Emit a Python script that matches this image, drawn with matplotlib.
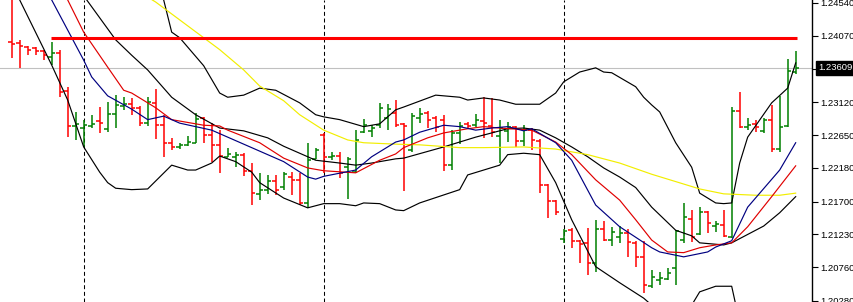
import matplotlib
matplotlib.use("Agg")
import matplotlib.pyplot as plt
import matplotlib.transforms as mtransforms
import numpy as np

# OHLC bars (left -> right)
opens = [1.2398, 1.2397, 1.2391, 1.2389, 1.2385, 1.2377, 1.2382, 1.2328, 1.2278, 1.2275,
         1.2278, 1.2285, 1.2274, 1.2295, 1.2307, 1.2309, 1.2304, 1.2282, 1.2311, 1.2279,
         1.2254, 1.2248, 1.2251, 1.2254, 1.2289, 1.2265, 1.2251, 1.2234, 1.2234, 1.2237,
         1.2214, 1.2181, 1.2187, 1.2199, 1.2191, 1.2205, 1.2201, 1.2168, 1.2231, 1.2265,
         1.2234, 1.2235, 1.2219, 1.2212, 1.2269, 1.2271, 1.2279, 1.2289, 1.2297, 1.2281,
         1.2244, 1.2289, 1.2297, 1.2289, 1.2287, 1.2222, 1.2268, 1.2281, 1.2279, 1.2285,
         1.2278, 1.2264, 1.2271, 1.2277, 1.2257, 1.2272, 1.2257, 1.2194, 1.2171, 1.2117,
         1.2129, 1.2114, 1.2111, 1.2082, 1.2131, 1.2115, 1.2119, 1.2125, 1.2111, 1.2091,
         1.2049, 1.2058, 1.2059, 1.2075, 1.2115, 1.2145, 1.2123, 1.2155, 1.2135, 1.2137,
         1.2119, 1.2299, 1.2277, 1.2281, 1.2271, 1.2287, 1.2245, 1.2278, 1.2355]
highs = [1.2465, 1.2401, 1.2392, 1.2391, 1.2387, 1.2398, 1.2387, 1.2334, 1.2298, 1.2287,
         1.2294, 1.2305, 1.2312, 1.2322, 1.2319, 1.2318, 1.2307, 1.2319, 1.2331, 1.2294,
         1.2261, 1.2254, 1.2264, 1.2297, 1.2291, 1.2282, 1.2272, 1.2247, 1.2241, 1.2239,
         1.2225, 1.2211, 1.2208, 1.2208, 1.2212, 1.2212, 1.2211, 1.2254, 1.2247, 1.2268,
         1.2241, 1.2241, 1.2234, 1.2272, 1.2288, 1.2279, 1.2311, 1.2309, 1.2315, 1.2282,
         1.2297, 1.2304, 1.2299, 1.2292, 1.2294, 1.2272, 1.2284, 1.2284, 1.2295, 1.2319,
         1.2318, 1.2287, 1.2284, 1.2278, 1.2279, 1.2275, 1.2259, 1.2195, 1.2172, 1.2131,
         1.2132, 1.2115, 1.2132, 1.2144, 1.2142, 1.2134, 1.2135, 1.2131, 1.2114, 1.2114,
         1.2072, 1.2069, 1.2075, 1.2129, 1.2168, 1.2158, 1.2162, 1.2157, 1.2142, 1.2158,
         1.2305, 1.2327, 1.2289, 1.2287, 1.2289, 1.2308, 1.2321, 1.2374, 1.2385]
lows = [1.2375, 1.2361, 1.2379, 1.2379, 1.2372, 1.2365, 1.2319, 1.2262, 1.2258, 1.2248,
        1.2275, 1.2268, 1.2269, 1.2275, 1.2301, 1.2294, 1.2278, 1.2278, 1.2259, 1.2234,
        1.2244, 1.2245, 1.2249, 1.2254, 1.2254, 1.2227, 1.2211, 1.2234, 1.2219, 1.2207,
        1.2165, 1.2172, 1.2181, 1.2179, 1.2187, 1.2179, 1.2165, 1.2161, 1.2231, 1.2211,
        1.2229, 1.2204, 1.2174, 1.2211, 1.2268, 1.2262, 1.2275, 1.2272, 1.2277, 1.2185,
        1.2241, 1.2282, 1.2275, 1.2269, 1.2214, 1.2215, 1.2252, 1.2275, 1.2277, 1.2261,
        1.2262, 1.2225, 1.2255, 1.2248, 1.2249, 1.2244, 1.2182, 1.2147, 1.2151, 1.2111,
        1.2104, 1.2082, 1.2065, 1.2069, 1.2114, 1.2107, 1.2111, 1.2091, 1.2077, 1.2039,
        1.2047, 1.2051, 1.2058, 1.2051, 1.2111, 1.2112, 1.2122, 1.2125, 1.2127, 1.2119,
        1.2118, 1.2275, 1.2272, 1.2269, 1.2268, 1.2241, 1.2241, 1.2277, 1.2352]
closes = [1.2395, 1.2392, 1.2387, 1.2385, 1.2379, 1.2382, 1.2327, 1.2278, 1.2281, 1.2279,
          1.2281, 1.2282, 1.2295, 1.2308, 1.2309, 1.2304, 1.2282, 1.2312, 1.2279, 1.2254,
          1.2248, 1.2251, 1.2255, 1.2288, 1.2265, 1.2251, 1.2235, 1.2238, 1.2237, 1.2214,
          1.2182, 1.2187, 1.2199, 1.2187, 1.2209, 1.2201, 1.2168, 1.2229, 1.2244, 1.2234,
          1.2235, 1.2211, 1.2231, 1.2258, 1.2279, 1.2275, 1.2304, 1.2302, 1.2279, 1.2278,
          1.2292, 1.2295, 1.2287, 1.2277, 1.2222, 1.2268, 1.2278, 1.2278, 1.2287, 1.2282,
          1.2269, 1.2275, 1.2277, 1.2257, 1.2272, 1.2258, 1.2194, 1.2171, 1.2155, 1.2128,
          1.2114, 1.2109, 1.2082, 1.2131, 1.2115, 1.2127, 1.2125, 1.2112, 1.2091, 1.2051,
          1.2062, 1.2061, 1.2068, 1.2128, 1.2148, 1.2119, 1.2155, 1.2139, 1.2138, 1.2121,
          1.2299, 1.2277, 1.2279, 1.2277, 1.2287, 1.2245, 1.2277, 1.2357, 1.23609]

# indicator lines, (bar index, price)
bb_upper = [(18, 1.2501), (19, 1.2458), (20, 1.2412), (21, 1.2404), (24, 1.2364), (26, 1.2325),
            (27, 1.2319), (29, 1.2322), (31, 1.2332), (33, 1.2329), (36, 1.2311), (38, 1.2294),
            (39, 1.2291), (41, 1.2287), (44, 1.2277), (46, 1.2281), (48, 1.2301), (49, 1.2305),
            (53, 1.2322), (56, 1.2319), (57, 1.2315), (59, 1.2318), (61, 1.2315), (63, 1.2309),
            (66, 1.2309), (68, 1.2325), (69, 1.2341), (71, 1.2355), (73, 1.2361), (74, 1.2355),
            (75, 1.2354), (78, 1.2334), (79, 1.2319), (80, 1.2308), (81, 1.2298), (83, 1.2254),
            (85, 1.2219), (86, 1.2182), (88, 1.2168), (89, 1.2167), (90, 1.2168), (91, 1.2225),
            (92, 1.2262), (95, 1.2311), (97, 1.2332), (98, 1.2368)]
bb_mid = [(8, 1.2484), (9, 1.2464), (13, 1.2401), (15, 1.2379), (17, 1.2358), (20, 1.2319),
          (23, 1.2294), (26, 1.2275), (29, 1.2271), (32, 1.2261), (34, 1.2249), (38, 1.2229),
          (41, 1.2225), (43, 1.2222), (45, 1.2225), (48, 1.2231), (49, 1.2232), (54, 1.2248),
          (58, 1.2262), (60, 1.2268), (62, 1.2274), (64, 1.2275), (66, 1.2272), (68, 1.2261),
          (70, 1.2248), (72, 1.2234), (74, 1.2218), (76, 1.2205), (78, 1.2190), (80, 1.2162),
          (83, 1.2129), (85, 1.2121), (86, 1.2111), (89, 1.2108), (90, 1.2111), (94, 1.2135),
          (96, 1.2154), (98, 1.2177)]
bb_lower = [(0, 1.2484), (1, 1.2458), (5, 1.2365), (7, 1.2315), (9, 1.2248), (11, 1.2212),
            (12, 1.2197), (13, 1.2189), (15, 1.2187), (17, 1.2188), (20, 1.2222), (22, 1.2215),
            (23, 1.2215), (25, 1.2225), (26, 1.2235), (28, 1.2227), (30, 1.2212), (31, 1.2197),
            (34, 1.2175), (37, 1.2161), (39, 1.2167), (41, 1.2167), (43, 1.2164), (44, 1.2168),
            (46, 1.2167), (48, 1.2158), (49, 1.2157), (51, 1.2168), (56, 1.2187), (57, 1.2208),
            (59, 1.2215), (61, 1.2222), (62, 1.2237), (64, 1.2239), (66, 1.2237), (68, 1.2197),
            (70, 1.2144), (73, 1.2077), (76, 1.2054), (79, 1.2032), (80, 1.2022), (82, 1.1994),
            (84, 1.1987), (85, 1.2022), (86, 1.2041), (88, 1.2049), (90, 1.2049), (91, 1.1997),
            (94, 1.1972), (98, 1.1987)]
ma_blue = [(4, 1.2472), (5, 1.2458), (7, 1.2415), (9, 1.2372), (10, 1.2348), (12, 1.2321),
           (15, 1.2302), (17, 1.2287), (19, 1.2292), (21, 1.2282), (25, 1.2272), (27, 1.2262),
           (31, 1.2242), (34, 1.2227), (37, 1.2205), (38, 1.2202), (39, 1.2206), (43, 1.2215),
           (45, 1.2234), (48, 1.2255), (49, 1.2258), (51, 1.2269), (54, 1.2279), (56, 1.2277),
           (58, 1.2272), (60, 1.2275), (62, 1.2277), (64, 1.2271), (65, 1.2274), (68, 1.2254),
           (70, 1.2229), (73, 1.2165), (76, 1.2134), (78, 1.2119), (80, 1.2104), (81, 1.2098),
           (84, 1.2091), (87, 1.2098), (88, 1.2105), (90, 1.2114), (92, 1.2162), (96, 1.2215),
           (98, 1.2254)]
ma_red = [(6, 1.2475), (7, 1.2458), (9, 1.2412), (12, 1.2362), (14, 1.2329), (15, 1.2325),
          (18, 1.2304), (20, 1.2287), (24, 1.2279), (26, 1.2278), (27, 1.2272), (31, 1.2254),
          (34, 1.2232), (37, 1.2218), (39, 1.2214), (43, 1.2211), (46, 1.2229), (48, 1.2238),
          (49, 1.2247), (52, 1.2261), (54, 1.2268), (57, 1.2274), (59, 1.2277), (61, 1.2275),
          (65, 1.2272), (68, 1.2255), (70, 1.2237), (73, 1.2201), (76, 1.2172), (78, 1.2144),
          (80, 1.2115), (82, 1.2098), (84, 1.2097), (86, 1.2104), (88, 1.2108), (90, 1.2111),
          (92, 1.2134), (95, 1.2177), (98, 1.2221)]
ma_yellow = [(16, 1.2469), (18, 1.2455), (24, 1.2404), (26, 1.2387), (29, 1.2358), (31, 1.2335),
             (34, 1.2314), (36, 1.2294), (39, 1.2272), (42, 1.2258), (44, 1.2254), (48, 1.2252),
             (51, 1.2251), (56, 1.2247), (59, 1.2247), (64, 1.2248), (68, 1.2245), (72, 1.2237),
             (76, 1.2225), (80, 1.2209), (84, 1.2195), (86, 1.2188), (89, 1.2181), (93, 1.2179),
             (96, 1.2179), (98, 1.2182)]

level_price = 1.2404
level_span = (4.9, 98.2)
separators = [9, 39, 69]
price_ticks = [1.24540, 1.24070, 1.23600, 1.23120, 1.22650, 1.22180, 1.21700, 1.21230, 1.20760, 1.20280]

BULL = '#008000'
BEAR = '#ff0000'

fig = plt.figure(figsize=(8.54, 3.02), dpi=100)
ax = fig.add_axes([0, 0, 812 / 854, 1])

x = np.arange(len(closes))
o = np.array(opens)
c = np.array(closes)
cols = [BULL if cc > oo else BEAR for oo, cc in zip(o, c)]

# day separators
for s in separators:
    ax.axvline(s, color='black', lw=0.75, ls=(0, (3.8, 2.6)), zorder=1)

# current price line
ax.axhline(closes[-1], color='#c0c0c0', lw=0.8, zorder=1)

# bars
ax.vlines(x, lows, highs, colors=cols, lw=1.1, zorder=3)
ax.hlines(o, x - 0.4, x, colors=cols, lw=1.1, zorder=3)
ax.hlines(c, x, x + 0.4, colors=cols, lw=1.1, zorder=3)

# indicators
for pts, col in [(bb_upper, 'black'), (bb_mid, 'black'), (bb_lower, 'black'),
                 (ma_yellow, '#f2ee00'), (ma_red, '#e00000'), (ma_blue, '#000080')]:
    xi, yi = zip(*pts)
    ax.plot(xi, yi, color=col, lw=0.85, zorder=4)

# resistance level
ax.hlines(level_price, level_span[0], level_span[1], color='#ff0000', lw=2.2, zorder=5)

ax.set_xlim(-1.46, 100.04)
ax.set_ylim(1.20265, 1.24579)

for side in ['left', 'top', 'bottom']:
    ax.spines[side].set_visible(False)
ax.spines['right'].set_color('black')
ax.spines['right'].set_linewidth(1.0)

ax.set_xticks([])
ax.yaxis.tick_right()
ax.set_yticks(price_ticks)
# the 1.23600 label sits under the last-price box
ax.set_yticklabels(["" if abs(v - closes[-1]) < 0.0005 else f"{v:.5f}" for v in price_ticks])
ax.tick_params(axis='y', length=4, width=0.8, pad=2, labelsize=6.8,
               labelcolor='black', colors='black')
for lab in ax.get_yticklabels():
    lab.set_family('Liberation Sans')

# last price box
trans = mtransforms.blended_transform_factory(ax.transAxes, ax.transData)
ax.text(1.0 + 6 / 812, closes[-1], f"{closes[-1]:.5f}", transform=trans,
        ha='left', va='center', color='white', fontsize=6.8, family='Liberation Sans',
        bbox=dict(boxstyle='square,pad=0.25', fc='black', ec='black'), zorder=10)

fig.savefig('out.png', dpi=100)
